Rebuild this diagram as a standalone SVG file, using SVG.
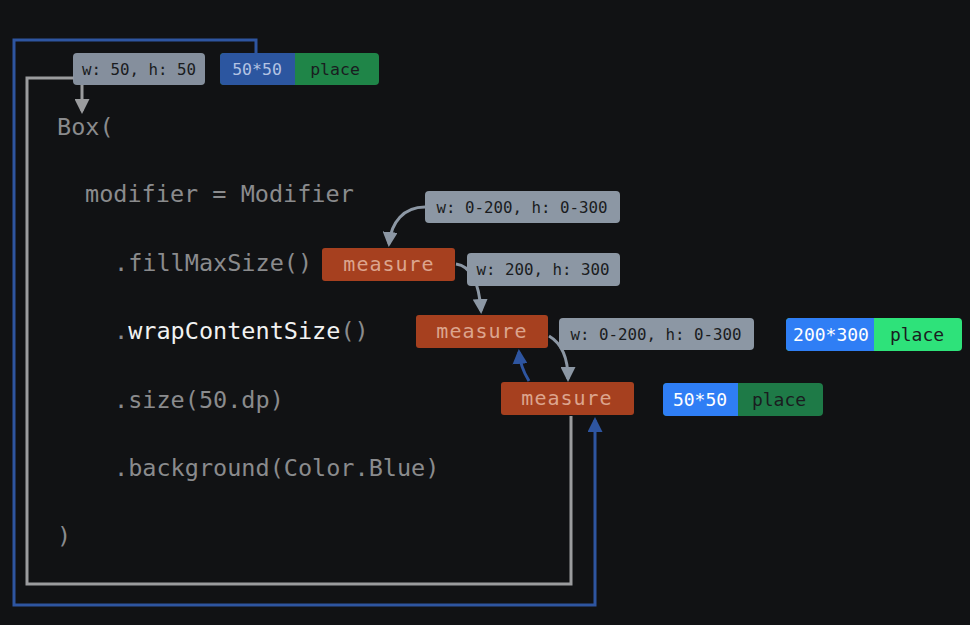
<svg xmlns="http://www.w3.org/2000/svg" width="970" height="625" viewBox="0 0 970 625">
<defs>
<style>
.code{font-family:"DejaVu Sans Mono","Liberation Mono",monospace;font-size:23.5px;fill:#8a8b8d}
.hi{fill:#f2f2f2}
.chip{fill:#8c97a4}
.chipt{font-family:"DejaVu Sans Mono","Liberation Mono",monospace;font-size:15.8px;fill:#1a1c20}
.big{font-size:18px}
.wt{fill:#ffffff}
.dimt{fill:#b3c3e3;font-size:16.5px}
.mid{font-size:16.5px}
.meas{fill:#a6401f}
.meast{font-family:"DejaVu Sans Mono","Liberation Mono",monospace;font-size:20px;fill:#dca58e;letter-spacing:1px}
.gl{fill:none;stroke:#9b9c9e;stroke-width:3}
.bl{fill:none;stroke:#2e55a0;stroke-width:3}
.ga{fill:none;stroke:#8c97a4;stroke-width:3}
</style>
<marker id="ag" viewBox="0 0 10 10" refX="8" refY="5" markerWidth="5" markerHeight="5" orient="auto" markerUnits="strokeWidth"><path d="M0,0 L10,5 L0,10 z" fill="#8c97a4"/></marker>
<marker id="agl" viewBox="0 0 10 10" refX="8" refY="5" markerWidth="5" markerHeight="5" orient="auto" markerUnits="strokeWidth"><path d="M0,0 L10,5 L0,10 z" fill="#9b9c9e"/></marker>
<marker id="ab" viewBox="0 0 10 10" refX="8" refY="5" markerWidth="5" markerHeight="5" orient="auto" markerUnits="strokeWidth"><path d="M0,0 L10,5 L0,10 z" fill="#2e55a0"/></marker>
</defs>
<rect width="970" height="625" fill="#111214"/>

<g id="connectors">
<polyline class="bl" points="256,53 256,40 14,40 14,605 595,605 595,420" marker-end="url(#ab)"/>
<polyline class="gl" points="571,416 571,584 27,584 27,78 74,78"/>
<line class="gl" x1="82" y1="85" x2="82" y2="111" marker-end="url(#agl)"/>
<path class="ga" d="M425,207 C404,207 391,222 389,244" marker-end="url(#ag)"/>
<path class="ga" d="M456,264 C470,266 479,280 481,311" marker-end="url(#ag)"/>
<path class="ga" d="M549,336 C561,343 568,356 568,379" marker-end="url(#ag)"/>
<path class="bl" d="M529,381 C524,373 520,364 519,352" marker-end="url(#ab)"/>
</g>

<g id="code">
<text class="code" x="57" y="135">Box(</text>
<text class="code" x="85" y="202">modifier = Modifier</text>
<text class="code" x="114" y="271">.fillMaxSize()</text>
<text class="code" x="114" y="339">.<tspan class="hi">wrapContentSize</tspan>()</text>
<text class="code" x="114" y="408">.size(50.dp)</text>
<text class="code" x="114" y="476">.background(Color.Blue)</text>
<text class="code" x="57" y="544">)</text>
</g>

<g id="constraint-top">
<rect class="chip" x="73" y="53" width="132" height="32" rx="4" fill-opacity="0.95"/>
<text class="chipt" x="139" y="75" text-anchor="middle">w: 50, h: 50</text>
</g>
<g id="place-top">
<rect x="220" y="53" width="159" height="32" rx="4" fill="#1f8548"/>
<path d="M224,53 H295 V85 H224 A4,4 0 0 1 220,81 V57 A4,4 0 0 1 224,53 Z" fill="#2c56a0"/>
<text class="chipt dimt" x="257" y="75" text-anchor="middle">50*50</text>
<text class="chipt mid" x="335" y="75" text-anchor="middle">place</text>
</g>

<g id="constraint-1">
<rect class="chip" x="425" y="191" width="195" height="32" rx="4"/>
<text class="chipt" x="522" y="213" text-anchor="middle">w: 0-200, h: 0-300</text>
</g>
<g id="measure-1">
<rect class="meas" x="322" y="248" width="133" height="33" rx="3"/>
<text class="meast" x="389" y="271" text-anchor="middle">measure</text>
</g>
<g id="result-1">
<rect class="chip" x="467" y="253" width="153" height="33" rx="4"/>
<text class="chipt" x="543" y="275" text-anchor="middle">w: 200, h: 300</text>
</g>
<g id="measure-2">
<rect class="meas" x="416" y="315" width="132" height="33" rx="3"/>
<text class="meast" x="482" y="338" text-anchor="middle">measure</text>
</g>
<g id="constraint-2">
<rect class="chip" x="559" y="318" width="195" height="32" rx="4"/>
<text class="chipt" x="656" y="340" text-anchor="middle">w: 0-200, h: 0-300</text>
</g>
<g id="place-2">
<rect x="786" y="318" width="176" height="33" rx="4" fill="#2ee27a"/>
<path d="M790,318 H874 V351 H790 A4,4 0 0 1 786,347 V322 A4,4 0 0 1 790,318 Z" fill="#2f7ef5"/>
<text class="chipt big wt" x="831" y="341" text-anchor="middle">200*300</text>
<text class="chipt big" x="917" y="341" text-anchor="middle">place</text>
</g>
<g id="measure-3">
<rect class="meas" x="501" y="382" width="133" height="33" rx="3"/>
<text class="meast" x="567" y="405" text-anchor="middle">measure</text>
</g>
<g id="place-3">
<rect x="663" y="383" width="160" height="33" rx="4" fill="#1e7a47"/>
<path d="M667,383 H738 V416 H667 A4,4 0 0 1 663,412 V387 A4,4 0 0 1 667,383 Z" fill="#2f7ef5"/>
<text class="chipt big wt" x="700" y="406" text-anchor="middle">50*50</text>
<text class="chipt big" x="779" y="406" text-anchor="middle">place</text>
</g>
</svg>
